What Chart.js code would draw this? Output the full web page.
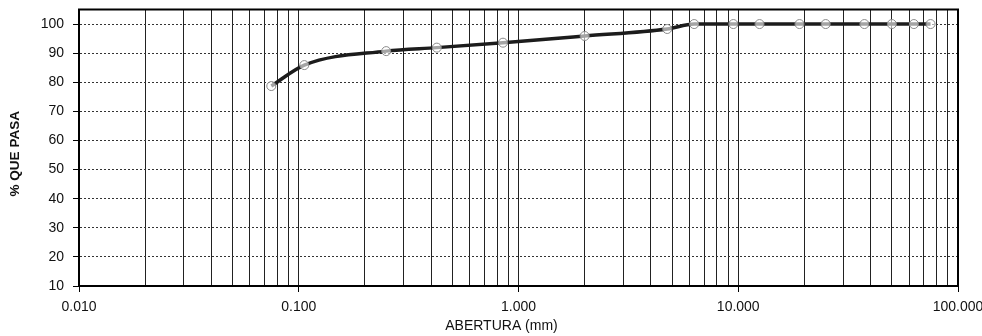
<!DOCTYPE html>
<html>
<head>
<meta charset="utf-8">
<script src="https://cdn.jsdelivr.net/npm/chart.js@4/dist/chart.umd.min.js"></script>
<style>
  body { margin: 0; background: #fff; }
  #curva { display: block; }
</style>
</head>
<body>
<canvas id="curva" width="982" height="336"></canvas>
<script>
// abertura de tamiz (mm) y % que pasa
const sieveOpenings = [75, 63, 50, 37.5, 25, 19, 12.5, 9.5, 6.3, 4.75, 2.0, 0.85, 0.425, 0.25, 0.106, 0.075];
const percentPassing = [100, 100, 100, 100, 100, 100, 100, 100, 100, 98.3, 95.9, 93.6, 91.9, 90.7, 85.9, 78.7];

const xDecades = [0.01, 0.1, 1, 10, 100];
const xLabels = ["0.010", "0.100", "1.000", "10.000", "100.000"];
const yTicks = [10, 20, 30, 40, 50, 60, 70, 80, 90, 100];
const xTitle = "ABERTURA (mm)";
const yTitle = "% QUE PASA";

const chartAreaBorder = {
  id: "chartAreaBorder",
  afterDraw(chart, args, options) {
    const {
      ctx,
      chartArea: { left, top, width, height },
    } = chart;
    ctx.save();
    ctx.strokeStyle = options.borderColor;
    ctx.lineWidth = options.borderWidth;
    ctx.strokeRect(left, top, width, height);
    ctx.restore();
  },
};

// axis titles sit a bit off-centre in the original sheet
const axisTitles = {
  id: "axisTitles",
  afterDraw(chart, args, options) {
    const {
      ctx,
      chartArea: { left, top, width, height },
    } = chart;
    const family = Chart.defaults.font.family;
    ctx.save();
    ctx.fillStyle = options.color;
    ctx.textAlign = "center";
    ctx.textBaseline = "middle";
    ctx.font = `14px ${family}`;
    ctx.fillText(options.x, left + width / 2 + options.xShift, options.xY);
    ctx.translate(options.yX, top + height / 2 + options.yShift);
    ctx.rotate(-Math.PI / 2);
    ctx.font = `bold 13.5px ${family}`;
    ctx.fillText(options.y, 0, 0);
    ctx.restore();
  },
};

// grid lines: 1..9 for each decade, plus the last one
let xGrid = [];
for (let i = 0; i < xDecades.length - 1; i++) {
  for (let m = 1; m <= 9; m++) {
    xGrid.push(xDecades[i] * m);
  }
}
xGrid.push(xDecades[xDecades.length - 1]);

let points = sieveOpenings
  .map((x, i) => ({ x: x, y: percentPassing[i] }))
  .sort((a, b) => a.x - b.x);

Chart.defaults.font.family = "'Liberation Sans', Arial, sans-serif";
Chart.defaults.color = "#111";

new Chart(document.getElementById("curva"), {
  type: "line",
  data: {
    datasets: [
      {
        data: points,
        borderColor: "#1c1c1c",
        borderWidth: 3.5,
        cubicInterpolationMode: "monotone",
        pointRadius: 4.5,
        pointBackgroundColor: "rgba(255,255,255,0.6)",
        pointBorderColor: "#8a8a8a",
        pointBorderWidth: 1,
      },
    ],
  },
  options: {
    responsive: false,
    animation: false,
    events: [],
    layout: { padding: { left: 0, right: 24, top: 9.5, bottom: 0 } },
    plugins: {
      legend: { display: false },
      tooltip: { enabled: false },
      chartAreaBorder: { borderColor: "#000", borderWidth: 2 },
      axisTitles: { x: xTitle, y: yTitle, color: "#111", xShift: -17, xY: 326, yX: 15.5, yShift: 6 },
    },
    scales: {
      x: {
        type: "logarithmic",
        min: 0.01,
        max: 100,
        afterBuildTicks: (scale) => {
          scale.ticks = xGrid.map((v) => ({ value: v }));
        },
        afterFit: (scale) => {
          scale.height = 50;
          scale.paddingLeft = 0;
          scale.paddingRight = 0;
        },
        ticks: {
          autoSkip: false,
          maxRotation: 0,
          padding: 7,
          font: { size: 14 },
          callback: (value) => {
            const k = xDecades.indexOf(value);
            return k >= 0 ? xLabels[k] : "";
          },
        },
        grid: {
          color: "#222",
          lineWidth: 1,
          tickLength: 6,
          tickColor: (ctx) => (xDecades.includes(ctx.tick.value) ? "#000" : "rgba(0,0,0,0)"),
        },
        border: { display: true, color: "#000", width: 2 },
      },
      y: {
        min: 10,
        max: 105,
        afterBuildTicks: (scale) => {
          scale.ticks = yTicks.map((v) => ({ value: v }));
        },
        afterFit: (scale) => {
          scale.width = 79;
          scale.paddingTop = 0;
          scale.paddingBottom = 0;
        },
        ticks: {
          padding: 9,
          font: { size: 14 },
        },
        grid: {
          color: "#333",
          lineWidth: 1,
          tickLength: 6,
          tickColor: "#000",
        },
        border: { display: true, color: "#000", width: 2, dash: [2, 2] },
      },
    },
  },
  plugins: [chartAreaBorder, axisTitles],
});
</script>
</body>
</html>
